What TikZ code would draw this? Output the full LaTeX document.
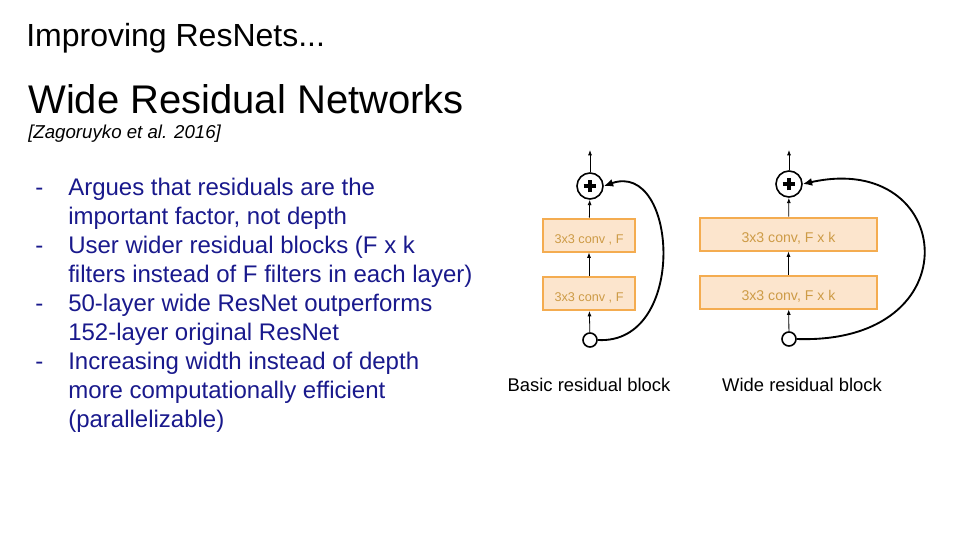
\documentclass[tikz,border=0pt]{standalone}
\usepackage{fontspec}
\setmainfont{Liberation Sans}
\usetikzlibrary{arrows.meta}

\definecolor{bulletblue}{RGB}{25,25,140}
\definecolor{convfill}{RGB}{252,229,205}
\definecolor{convline}{RGB}{244,172,80}
\definecolor{convtext}{RGB}{205,155,70}

\begin{document}
\begin{tikzpicture}[x=0.75pt, y=-0.75pt,
    conv/.style={draw=convline, line width=1.5pt, fill=convfill, text=convtext,
        font=\fontsize{9.5}{11}\selectfont, minimum height=24.75pt, inner sep=0pt,
        text height=12pt, text depth=0pt},
    sumnode/.style={circle, draw, line width=1.2pt, minimum size=19.5pt, inner sep=0pt,
        path picture={\draw[line width=2.4pt] ([xshift=-4.8pt]path picture bounding box.center) -- ([xshift=4.8pt]path picture bounding box.center);
                      \draw[line width=2.4pt] ([yshift=-4.8pt]path picture bounding box.center) -- ([yshift=4.8pt]path picture bounding box.center);}},
    innode/.style={circle, draw, line width=1.2pt, minimum size=10.5pt, inner sep=0pt},
    flow/.style={-{Latex[length=4pt,width=3pt]}, line width=0.6pt},
    skip/.style={-{Latex[length=7pt,width=6pt]}, line width=1.4pt},
    bullet/.style={anchor=base west, inner sep=0pt, text=bulletblue, font=\fontsize{18}{22}\selectfont},
    caption/.style={anchor=base, inner sep=0pt, font=\fontsize{13.8}{16}\selectfont}]
    \useasboundingbox (0,0) rectangle (960,540);

    % Titles
    \node[anchor=base west, inner sep=0pt, font=\fontsize{24}{28}\selectfont] (title) at (26,46) {Improving ResNets...};
    \node[anchor=base west, inner sep=0pt, font=\fontsize{30}{36}\selectfont] (heading) at (28,113) {Wide Residual Networks};
    \node[anchor=base west, inner sep=0pt, font=\fontsize{14}{16}\selectfont\itshape] (cite) at (28,138) {[Zagoruyko et al. 2016]};

    % Bullet points
    \foreach \y in {195, 253, 311, 369} {
        \node[bullet] at (35,\y) {-};
    }
    \foreach \y/\txt [count=\i] in {195/Argues that residuals are the,
                        224/{important factor, not depth},
                        253/User wider residual blocks (F x k,
                        282/filters instead of F filters in each layer),
                        311/50-layer wide ResNet outperforms,
                        340/152-layer original ResNet,
                        369/Increasing width instead of depth,
                        398/more computationally efficient,
                        427/(parallelizable)} {
        \node[bullet] (line\i) at (68,\y) {\txt};
    }

    % Basic residual block
    \node[sumnode] (bsum) at (590,186) {};
    \node[conv, minimum width=69pt] (bconv1) at (589,235) {3x3 conv , F};
    \node[conv, minimum width=69pt] (bconv2) at (589,293.5) {3x3 conv , F};
    \node[innode] (bin) at (590,340) {};
    \coordinate (bout) at (590,150);
    \draw[flow] (bsum) -- (bout);
    \draw[flow] (bconv1) -- (bsum);
    \draw[flow] (bconv2) -- (bconv1);
    \draw[flow] (bin) -- (bconv2);
    \draw[skip] (bin.east) .. controls (688,345) and (678,160) .. (bsum.east);
    \node[caption] (bcap) at (589,391) {Basic residual block};

    % Wide residual block
    \node[sumnode] (wsum) at (789,184) {};
    \node[conv, minimum width=132.75pt, font=\fontsize{10.6}{12}\selectfont] (wconv1) at (788.5,234) {3x3 conv, F x k};
    \node[conv, minimum width=132.75pt, font=\fontsize{10.6}{12}\selectfont] (wconv2) at (788.5,292) {3x3 conv, F x k};
    \node[innode] (win) at (789,339) {};
    \coordinate (wout) at (789,150);
    \draw[flow] (wsum) -- (wout);
    \draw[flow] (wconv1) -- (wsum);
    \draw[flow] (wconv2) -- (wconv1);
    \draw[flow] (win) -- (wconv2);
    \draw[skip] (win.east) .. controls (975,345) and (955,150) .. (wsum.east);
    \node[caption] (wcap) at (802,391) {Wide residual block};
\end{tikzpicture}
\end{document}
